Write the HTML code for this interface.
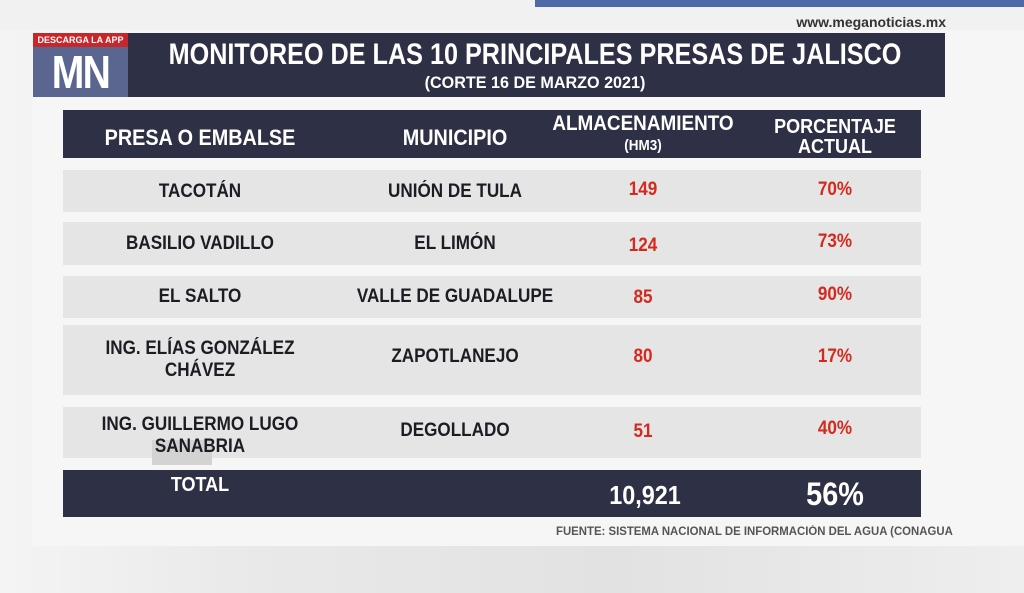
<!DOCTYPE html>
<html><head><meta charset="utf-8"><style>
body{margin:0;width:1024px;height:593px;overflow:hidden;position:relative;background:linear-gradient(90deg,#f4f4f4 0%,#e9e9e9 25%,#e2e2e2 60%,#eeeeee 100%);font-family:"Liberation Sans",sans-serif;font-weight:bold}
div{position:absolute;box-sizing:border-box;white-space:nowrap}
.c{text-align:center;transform:scaleX(.9)}
.row{left:63px;width:858px;background:#e5e5e6}
.t{color:#1c1c22;font-size:19px}
.r{color:#d42a1e;font-size:19px}
</style></head><body>
<div style="left:0;top:0;width:1024px;height:30px;background:#f1f1f1"></div>
<div style="left:535px;top:0;width:489px;height:7px;background:#4d6aa6"></div>
<div style="left:32px;top:30px;width:992px;height:516px;background:#f6f6f6"></div>
<div style="left:780px;top:14px;width:166px;font-size:14px;color:#333;text-align:right">www.meganoticias.mx</div>
<div style="left:33px;top:33px;width:912px;height:64px;background:#2e3045"></div>
<div style="left:33px;top:33px;width:95px;height:14px;background:#c8262a;color:#fff;font-size:9px;text-align:center;line-height:14px">DESCARGA LA APP</div>
<div style="left:33px;top:47px;width:95px;height:50px;background:#5a6590"></div>
<div style="left:33px;top:47px;width:95px;height:50px;color:#fff;font-size:46px;text-align:center;line-height:50px;letter-spacing:-2px;transform:scaleX(.85)">MN</div>
<div class="c" style="left:80px;top:38px;width:910px;color:#fff;font-size:30px;line-height:34px;transform:scaleX(.84)">MONITOREO DE LAS 10 PRINCIPALES PRESAS DE JALISCO</div>
<div class="c" style="left:80px;top:73px;width:910px;color:#fff;font-size:17px;transform:scaleX(.95)">(CORTE 16 DE MARZO 2021)</div>
<div style="left:63px;top:110px;width:858px;height:48px;background:#2e3045"></div>
<div class="c" style="left:90px;top:125px;width:220px;color:#fff;font-size:22px">PRESA O EMBALSE</div>
<div class="c" style="left:380px;top:125px;width:150px;color:#fff;font-size:22px">MUNICIPIO</div>
<div class="c" style="left:540px;top:114px;width:206px;color:#fff;font-size:21px;line-height:20px">ALMACENAMIENTO<br><span style="font-size:15px">(HM3)</span></div>
<div class="c" style="left:760px;top:117px;width:150px;color:#fff;font-size:20px;line-height:20px">PORCENTAJE<br>ACTUAL</div>

<div class="row" style="top:170px;height:42px"></div>
<div class="row" style="top:222px;height:43px"></div>
<div class="row" style="top:276px;height:42px"></div>
<div class="row" style="top:325px;height:70px"></div>
<div class="row" style="top:407px;height:51px"></div>

<div class="c t" style="left:90px;top:181px;width:220px">TACOTÁN</div>
<div class="c t" style="left:350px;top:181px;width:210px">UNIÓN DE TULA</div>
<div class="c r" style="left:593px;top:179px;width:100px">149</div>
<div class="c r" style="left:785px;top:179px;width:100px">70%</div>

<div class="c t" style="left:90px;top:233px;width:220px">BASILIO VADILLO</div>
<div class="c t" style="left:350px;top:233px;width:210px">EL LIMÓN</div>
<div class="c r" style="left:593px;top:235px;width:100px">124</div>
<div class="c r" style="left:785px;top:231px;width:100px">73%</div>

<div class="c t" style="left:90px;top:286px;width:220px">EL SALTO</div>
<div class="c t" style="left:340px;top:286px;width:230px">VALLE DE GUADALUPE</div>
<div class="c r" style="left:593px;top:287px;width:100px">85</div>
<div class="c r" style="left:785px;top:284px;width:100px">90%</div>

<div class="c t" style="left:80px;top:338px;width:240px;line-height:22px">ING. ELÍAS GONZÁLEZ<br>CHÁVEZ</div>
<div class="c t" style="left:350px;top:346px;width:210px">ZAPOTLANEJO</div>
<div class="c r" style="left:593px;top:346px;width:100px">80</div>
<div class="c r" style="left:785px;top:346px;width:100px">17%</div>

<div class="row" style="left:152px;top:440px;width:60px;height:25px;background:#d3d3d3"></div>
<div class="c t" style="left:80px;top:414px;width:240px;line-height:22px">ING. GUILLERMO LUGO<br>SANABRIA</div>
<div class="c t" style="left:350px;top:420px;width:210px">DEGOLLADO</div>
<div class="c r" style="left:593px;top:421px;width:100px">51</div>
<div class="c r" style="left:785px;top:418px;width:100px">40%</div>

<div style="left:63px;top:470px;width:858px;height:47px;background:#2e3045"></div>
<div class="c" style="left:150px;top:474px;width:100px;color:#fff;font-size:20px">TOTAL</div>
<div class="c" style="left:570px;top:480px;width:150px;color:#fff;font-size:26px">10,921</div>
<div class="c" style="left:760px;top:476px;width:150px;color:#fff;font-size:32px">56%</div>

<div style="left:556px;top:526px;width:400px;color:#555;font-size:11.5px;transform:scaleX(.99);transform-origin:left">FUENTE: SISTEMA NACIONAL DE INFORMACIÓN DEL AGUA (CONAGUA</div>
</body></html>
